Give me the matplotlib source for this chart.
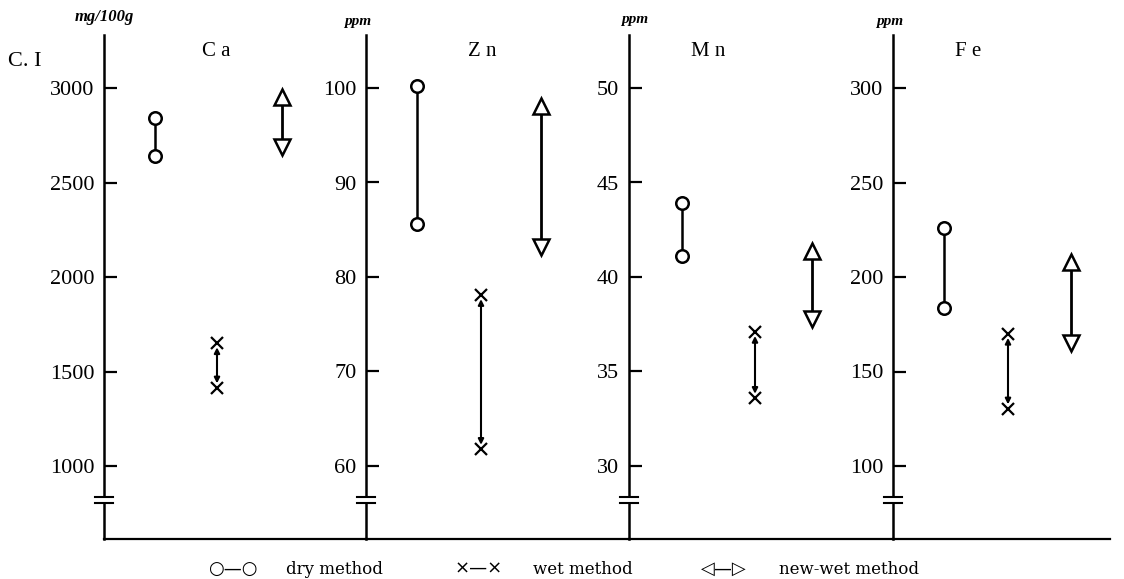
import matplotlib.pyplot as plt
from matplotlib.patches import Rectangle

elements = ["Ca", "Zn", "Mn", "Fe"]
units = ["mg/100g", "ppm", "ppm", "ppm"]
tick_values = [
    [1000, 1500, 2000, 2500, 3000],
    [60, 70, 80, 90, 100],
    [30, 35, 40, 45, 50],
    [100, 150, 200, 250, 300],
]
# (upper, lower) for each method
dry = [(2840, 2640), (100.2, 85.6), (43.9, 41.1), (226, 183.5)]
wet = [(1650, 1415), (78.1, 61.8), (37.1, 33.6), (170, 130.4)]
new_wet = [(2950, 2690), (98.1, 83.2), (41.4, 37.8), (208, 165)]

W, H = 1124, 579
fig = plt.figure(figsize=(W / 100, H / 100), dpi=100)
serif = "Liberation Serif"

# pixel layout
axis_x = [104, 366, 629, 893]
axis_r = [366, 629, 893, 1110]
base_y, top_y = 539, 35
lo_px, hi_px = 466, 88  # pixel rows of lowest / highest tick
dry_x = [51, 51, 53, 51]
wet_x = [113, 115, 126, 115]
new_x = [178, 175, 183, 178]

for i, el in enumerate(elements):
    w_px = axis_r[i] - axis_x[i]
    ax = fig.add_axes([axis_x[i] / W, 1 - base_y / H, w_px / W, (base_y - top_y) / H])
    ax.patch.set_alpha(0)
    lo, hi = tick_values[i][0], tick_values[i][-1]
    per_px = (hi - lo) / (lo_px - hi_px)
    ax.set_ylim(lo - (base_y - lo_px) * per_px, hi + (hi_px - top_y) * per_px)
    ax.set_xlim(0, w_px)

    for s in ["top", "right"]:
        ax.spines[s].set_visible(False)
    ax.spines["left"].set_linewidth(1.8)
    ax.spines["bottom"].set_linewidth(1.6)
    ax.set_xticks([])
    ax.set_yticks(tick_values[i])
    ax.set_yticklabels([str(v) for v in tick_values[i]], fontfamily=serif, fontsize=16)
    ax.tick_params(axis="y", direction="in", length=9, width=1.6, pad=7)

    # axis break
    ax.add_patch(Rectangle((-0.03, 0.072), 0.06, 0.011, transform=ax.transAxes,
                           facecolor="white", edgecolor="none", zorder=5, clip_on=False))
    for yb in [0.072, 0.083]:
        ax.plot([-9 / w_px, 9 / w_px], [yb, yb], transform=ax.transAxes,
                color="black", lw=1.5, zorder=6, clip_on=False)

    # dry method
    ax.plot([dry_x[i]] * 2, dry[i], color="black", lw=1.8, marker="o", ms=9,
            mfc="white", mec="black", mew=1.8, zorder=3)
    # wet method
    ax.annotate("", xy=(wet_x[i], wet[i][1]), xytext=(wet_x[i], wet[i][0]),
                arrowprops=dict(arrowstyle="<|-|>", color="black", lw=1.5,
                                mutation_scale=8, shrinkA=3, shrinkB=3))
    ax.plot([wet_x[i]] * 2, wet[i], ls="none", marker="x", ms=9, mew=1.6,
            color="black", zorder=3)
    # new-wet method
    ax.plot([new_x[i]] * 2, new_wet[i], color="black", lw=2, zorder=2)
    ax.plot(new_x[i], new_wet[i][0], marker="^", ms=11, mfc="white", mec="black",
            mew=1.8, zorder=3)
    ax.plot(new_x[i], new_wet[i][1], marker="v", ms=11, mfc="white", mec="black",
            mew=1.8, zorder=3)

label_x = [216, 482, 708, 968]
for i, el in enumerate(elements):
    fig.text(label_x[i] / W, 1 - 52 / H, " ".join(el), ha="center", va="center",
             fontfamily=serif, fontsize=15)

unit_x = [104, 358, 635, 890]
unit_y = [17, 21, 20, 21]
for i, u in enumerate(units):
    fig.text(unit_x[i] / W, 1 - unit_y[i] / H, u, ha="center", va="center",
             fontfamily=serif, fontsize=12 if i == 0 else 11, style="italic",
             fontweight="bold")

fig.text(8 / W, 1 - 62 / H, "C. I", ha="left", va="center", fontfamily=serif, fontsize=16)

legend_items = [("○—○", "dry method", 208), ("×—×", "wet method", 455),
                ("◁—▷", "new-wet method", 701)]
for sym, lab, x0 in legend_items:
    fig.text(x0 / W, 1 - 569 / H, sym, ha="left", va="center",
             fontfamily="DejaVu Sans", fontsize=13)
    fig.text((x0 + 78) / W, 1 - 569 / H, lab, ha="left", va="center",
             fontfamily="DejaVu Serif", fontsize=12)

fig.savefig("out.png", dpi=100)
